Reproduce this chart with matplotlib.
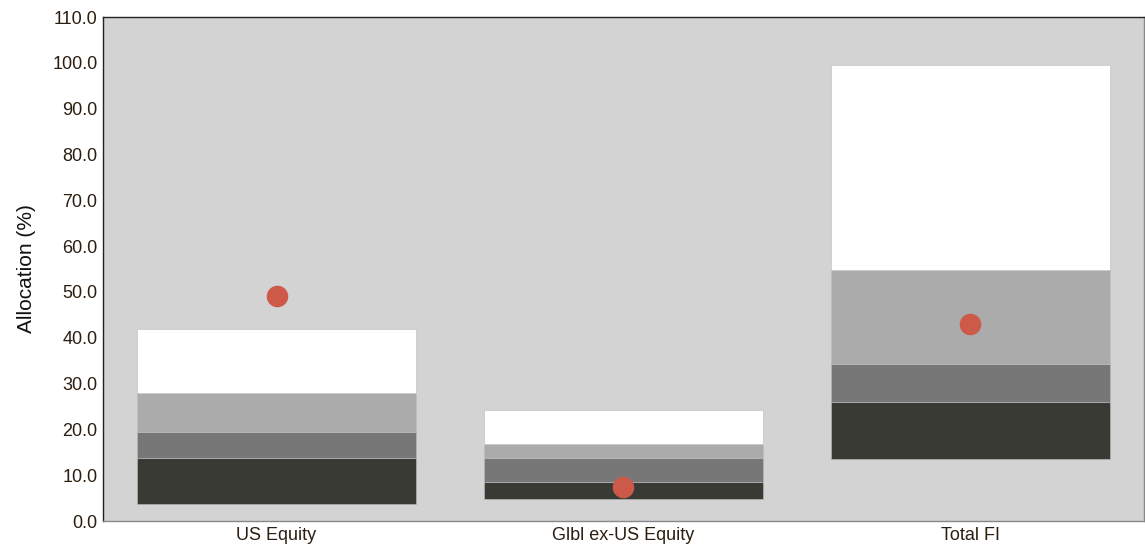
import matplotlib
matplotlib.use("Agg")
import matplotlib.pyplot as plt
import numpy as np

plt.rcParams['font.family'] = ['Liberation Sans', 'DejaVu Sans']

categories = ['US Equity', 'Glbl ex-US Equity', 'Total FI']
# percentile band edges (bottom -> top)
p_low = [3.8, 4.8, 13.5]
p_25 = [13.7, 8.5, 25.9]
p_50 = [19.4, 13.7, 34.3]
p_75 = [27.9, 16.7, 54.8]
p_high = [41.8, 24.2, 99.5]
current = [49.2, 7.4, 42.9]

band_colors = ['#3a3a34', '#777777', '#ababab', '#ffffff']

fig = plt.figure(figsize=(11.45, 5.49), dpi=100)
ax = fig.add_axes([0.09, 0.051, 0.909, 0.918])
ax.set_facecolor('#d3d3d3')

x = np.arange(len(categories))
edges = [p_low, p_25, p_50, p_75, p_high]
for i in range(4):
    lo = np.array(edges[i])
    hi = np.array(edges[i + 1])
    ax.bar(x, hi - lo, bottom=lo, width=0.805, color=band_colors[i],
           edgecolor='#bdbdbd', linewidth=0.4, zorder=2)

ax.scatter(x, current, s=210, color='#cd5a48', zorder=3)

ax.set_xlim(-0.5, 2.5)
ax.set_ylim(0, 110)
ax.set_yticks(np.arange(0, 111, 10))
ax.set_yticklabels([f'{v:.1f}' for v in np.arange(0, 111, 10)])
ax.set_xticks(x)
ax.set_xticklabels(categories)
ax.tick_params(axis='both', length=0, labelsize=13, labelcolor='#2b1d10', pad=4)
ax.set_ylabel('Allocation (%)', fontsize=15, labelpad=12, color='#111111')

for s in ['left', 'top']:
    ax.spines[s].set_color('#222222')
    ax.spines[s].set_linewidth(1.0)
for s in ['right', 'bottom']:
    ax.spines[s].set_color('#888888')
    ax.spines[s].set_linewidth(1.0)

fig.savefig('out.png', dpi=100)
